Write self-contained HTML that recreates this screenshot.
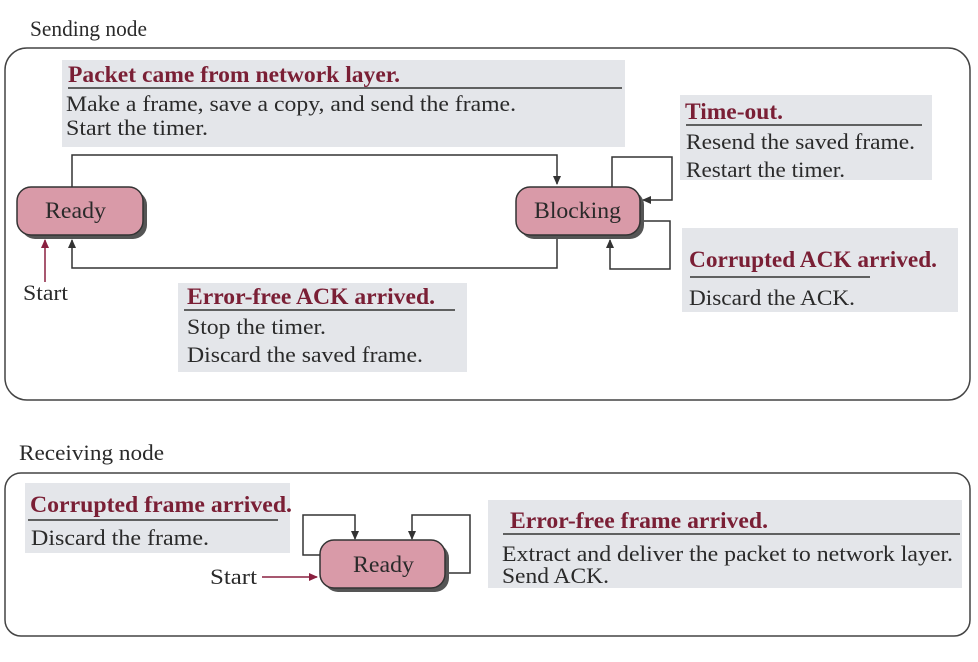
<!DOCTYPE html>
<html><head><meta charset="utf-8"><style>
html,body{margin:0;padding:0;background:#fff;}
svg text{font-family:"Liberation Serif",serif;}
.t{font-weight:bold;fill:#7a1f35;font-size:23px;}
.b{fill:#2a2a2a;font-size:22px;}
.n{fill:#2a2a2a;font-size:23px;}
</style></head><body>
<svg width="978" height="657" viewBox="0 0 978 657" xmlns="http://www.w3.org/2000/svg">
<defs>
<marker id="a" markerWidth="10" markerHeight="10" refX="8" refY="4" orient="auto" markerUnits="userSpaceOnUse"><path d="M0,0 L9,4 L0,8 z" fill="#333"/></marker>
<marker id="r" markerWidth="10" markerHeight="10" refX="8" refY="4" orient="auto" markerUnits="userSpaceOnUse"><path d="M0,0 L9,4 L0,8 z" fill="#8a2040"/></marker>
</defs>
<text x="30" y="36" class="b" textLength="117" lengthAdjust="spacingAndGlyphs">Sending node</text>
<rect x="5" y="48" width="965" height="352" rx="22" fill="#fff" stroke="#444" stroke-width="1.5"/>
<rect x="62" y="60" width="563" height="87" fill="#e4e6ea"/>
<rect x="680" y="95" width="252" height="85" fill="#e4e6ea"/>
<rect x="682" y="228" width="276" height="84" fill="#e4e6ea"/>
<rect x="178" y="283" width="289" height="89" fill="#e4e6ea"/>
<text x="68" y="82" class="t" textLength="332" lengthAdjust="spacingAndGlyphs">Packet came from network layer.</text>
<line x1="68" y1="88" x2="622" y2="88" stroke="#333" stroke-width="1.5"/>
<text x="66" y="111" class="b" textLength="450" lengthAdjust="spacingAndGlyphs">Make a frame, save a copy, and send the frame.</text>
<text x="66" y="135" class="b" textLength="142" lengthAdjust="spacingAndGlyphs">Start the timer.</text>
<text x="685" y="119" class="t" textLength="98" lengthAdjust="spacingAndGlyphs">Time-out.</text>
<line x1="686" y1="125" x2="922" y2="125" stroke="#333" stroke-width="1.5"/>
<text x="686" y="149" class="b" textLength="229" lengthAdjust="spacingAndGlyphs">Resend the saved frame.</text>
<text x="686" y="177" class="b" textLength="159" lengthAdjust="spacingAndGlyphs">Restart the timer.</text>
<text x="689" y="267" class="t" textLength="248" lengthAdjust="spacingAndGlyphs">Corrupted ACK arrived.</text>
<line x1="690" y1="277" x2="870" y2="277" stroke="#333" stroke-width="1.5"/>
<text x="689" y="305" class="b" textLength="166" lengthAdjust="spacingAndGlyphs">Discard the ACK.</text>
<text x="187" y="304" class="t" textLength="248" lengthAdjust="spacingAndGlyphs">Error-free ACK arrived.</text>
<line x1="184" y1="310" x2="455" y2="310" stroke="#333" stroke-width="1.5"/>
<text x="187" y="334" class="b" textLength="139" lengthAdjust="spacingAndGlyphs">Stop the timer.</text>
<text x="187" y="362" class="b" textLength="236" lengthAdjust="spacingAndGlyphs">Discard the saved frame.</text>
<g fill="none" stroke="#333" stroke-width="1.5">
<polyline points="72,187 72,155 557,155 557,184" marker-end="url(#a)"/>
<polyline points="557,235 557,268 72,268 72,240" marker-end="url(#a)"/>
<polyline points="612,187 612,157 672,157 672,200 643,200" marker-end="url(#a)"/>
<polyline points="640,221 670,221 670,269 610,269 610,240" marker-end="url(#a)"/>
</g>
<line x1="45" y1="282" x2="45" y2="240" stroke="#8a2040" stroke-width="1.5" marker-end="url(#r)"/>
<text x="23" y="300" class="b" textLength="45" lengthAdjust="spacingAndGlyphs">Start</text>
<rect x="21" y="191" width="126" height="48" rx="14" fill="#555"/>
<rect x="17" y="187" width="126" height="48" rx="14" fill="#d99aa8" stroke="#333" stroke-width="1.5"/>
<text x="45" y="218" class="n" textLength="61" lengthAdjust="spacingAndGlyphs">Ready</text>
<rect x="520" y="191" width="124" height="48" rx="14" fill="#555"/>
<rect x="516" y="187" width="124" height="48" rx="14" fill="#d99aa8" stroke="#333" stroke-width="1.5"/>
<text x="534" y="218" class="n" textLength="87" lengthAdjust="spacingAndGlyphs">Blocking</text>

<text x="19" y="460" class="b" textLength="145" lengthAdjust="spacingAndGlyphs">Receiving node</text>
<rect x="5" y="473" width="965" height="163" rx="16" fill="#fff" stroke="#444" stroke-width="1.5"/>
<rect x="25" y="483" width="265" height="70" fill="#e4e6ea"/>
<rect x="488" y="500" width="474" height="88" fill="#e4e6ea"/>
<text x="30" y="512" class="t" textLength="262" lengthAdjust="spacingAndGlyphs">Corrupted frame arrived.</text>
<line x1="28" y1="520" x2="278" y2="520" stroke="#333" stroke-width="1.5"/>
<text x="31" y="545" class="b" textLength="178" lengthAdjust="spacingAndGlyphs">Discard the frame.</text>
<text x="510" y="528" class="t" textLength="258" lengthAdjust="spacingAndGlyphs">Error-free frame arrived.</text>
<line x1="503" y1="534" x2="960" y2="534" stroke="#333" stroke-width="1.5"/>
<text x="502" y="561" class="b" textLength="451" lengthAdjust="spacingAndGlyphs">Extract and deliver the packet to network layer.</text>
<text x="502" y="583" class="b" textLength="107" lengthAdjust="spacingAndGlyphs">Send ACK.</text>
<g fill="none" stroke="#333" stroke-width="1.5">
<polyline points="320,555 303,555 303,515 355,515 355,539" marker-end="url(#a)"/>
<polyline points="445,573 470,573 470,515 412,515 412,539" marker-end="url(#a)"/>
</g>
<line x1="262" y1="577" x2="317" y2="577" stroke="#8a2040" stroke-width="1.5" marker-end="url(#r)"/>
<text x="210" y="584" class="b" textLength="47" lengthAdjust="spacingAndGlyphs">Start</text>
<rect x="324" y="544" width="125" height="48" rx="14" fill="#555"/>
<rect x="320" y="540" width="125" height="48" rx="14" fill="#d99aa8" stroke="#333" stroke-width="1.5"/>
<text x="353" y="572" class="n" textLength="61" lengthAdjust="spacingAndGlyphs">Ready</text>
</svg>
</body></html>
